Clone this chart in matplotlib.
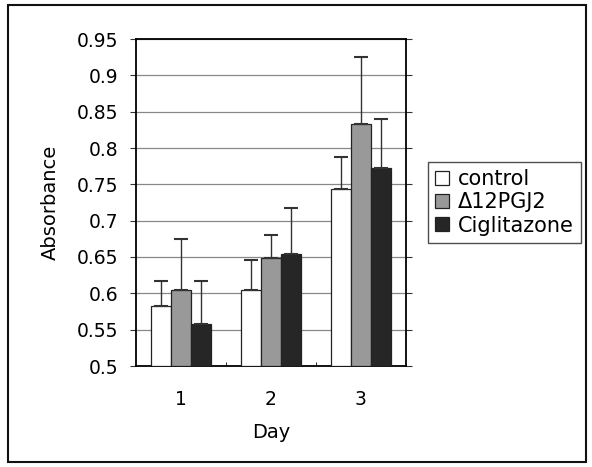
import numpy as np
import matplotlib.pyplot as plt
from matplotlib.patches import Rectangle

plt.rcParams['font.family'] = ['DejaVu Sans']

days = ['1', '2', '3']
series = ['control', '\u039412PGJ2', 'Ciglitazone']
control = [0.583, 0.604, 0.743]
pgj2 = [0.604, 0.648, 0.833]
cigli = [0.558, 0.654, 0.772]
control_err = [0.034, 0.042, 0.044]
pgj2_err = [0.071, 0.032, 0.092]
cigli_err = [0.059, 0.064, 0.068]

values = [control, pgj2, cigli]
errors = [control_err, pgj2_err, cigli_err]
colors = ['white', '#999999', '#262626']

W, H = 592, 467
fig = plt.figure(figsize=(W / 100, H / 100), dpi=100)
ax = fig.add_axes([136 / W, 1 - 366 / H, 270 / W, 327 / H])

x = np.arange(len(days))
width = 0.22
for i, (vals, errs, col) in enumerate(zip(values, errors, colors)):
    pos = x + (i - 1) * width
    ax.bar(pos, np.array(vals) - 0.5, width, bottom=0.5, color=col,
           edgecolor='#222222', linewidth=0.9, label=series[i], zorder=3)
    ax.errorbar(pos, vals, yerr=[np.zeros(len(errs)), errs], fmt='none',
                ecolor='#333333', elinewidth=1.0, capsize=5, capthick=1.5, zorder=4)

ax.set_xlim(-0.5, 2.5)
ax.set_ylim(0.5, 0.95)
ax.set_yticks(np.arange(0.5, 0.951, 0.05))
ax.set_yticklabels(['0.5', '0.55', '0.6', '0.65', '0.7', '0.75', '0.8', '0.85', '0.9', '0.95'])
ax.set_xticks(x)
ax.set_xticklabels(days)
ax.tick_params(axis='x', length=0, pad=17, labelsize=13.5)
ax.tick_params(axis='y', direction='out', length=4, labelsize=13.5, pad=9,
               right=True, color='#333333')
ax.set_xticks([0.5, 1.5], minor=True)
ax.tick_params(axis='x', which='minor', direction='in', length=3)
ax.yaxis.grid(True, color='#888888', linewidth=0.9, zorder=0)
ax.set_axisbelow(True)
for sp in ax.spines.values():
    sp.set_linewidth(1.3)

ax.set_xlabel('Day', fontsize=14, labelpad=10)
ax.set_ylabel('Absorbance', fontsize=14, labelpad=12)

leg = ax.legend(loc='upper left', bbox_to_anchor=(428 / W, 1 - 162 / H),
                bbox_transform=fig.transFigure, frameon=True, fancybox=False,
                fontsize=15, handlelength=0.65, handleheight=0.65, handletextpad=0.45,
                borderpad=0.35, labelspacing=0.15, borderaxespad=0)
leg.get_frame().set_edgecolor('#222222')
leg.get_frame().set_linewidth(1.0)

fig.patches.append(Rectangle((8 / W, 5 / H), 578 / W, 457 / H, transform=fig.transFigure,
                             fill=False, edgecolor='#111111', linewidth=1.5))

fig.savefig('out.png', dpi=100)
